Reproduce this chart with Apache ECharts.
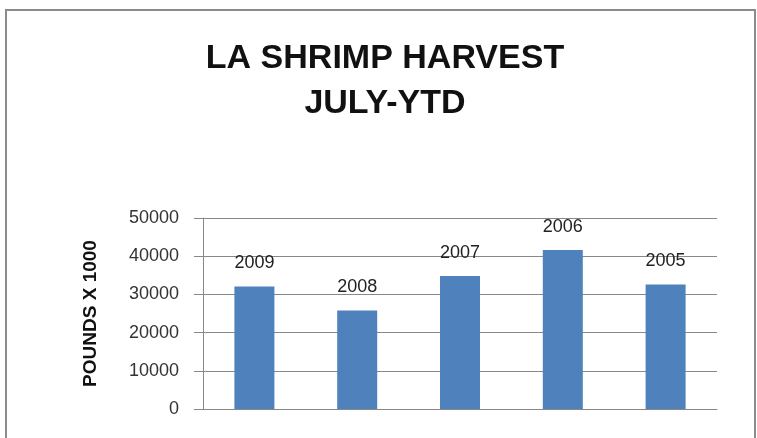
<!DOCTYPE html>
<html>
<head>
<meta charset="utf-8">
<script src="https://cdn.jsdelivr.net/npm/echarts@6/dist/echarts.min.js"></script>
<style>
html,body{margin:0;padding:0;background:#fff;}
#chart{width:757px;height:438px;}
</style>
</head>
<body>
<div id="chart"></div>
<script>
const titleLines = ['LA SHRIMP HARVEST', 'JULY-YTD'];
const yAxisName = 'POUNDS X 1000';
const categories = ['2009', '2008', '2007', '2006', '2005'];
const harvest = [32100, 25800, 34800, 41600, 32600];
const yTicks = [0, 10000, 20000, 30000, 40000, 50000];

const chart = echarts.init(document.getElementById('chart'), null, {renderer: 'canvas'});
const FONT = '"Liberation Sans", Arial, sans-serif';
chart.setOption({
  backgroundColor: '#ffffff',
  animation: false,
  graphic: [{
    type: 'rect',
    shape: {x: 6, y: 10, width: 749, height: 440},
    style: {fill: 'none', stroke: '#8c8c8c', lineWidth: 2},
    silent: true
  }],
  title: {
    text: titleLines.join('\n'),
    left: 380,
    top: 31,
    textAlign: 'center',
    textStyle: {
      fontFamily: FONT,
      fontWeight: 'bold',
      fontSize: 34,
      lineHeight: 45,
      color: '#111111'
    }
  },
  grid: {left: 203, right: 40, top: 218, bottom: 29, containLabel: false},
  xAxis: {
    type: 'category',
    data: categories,
    axisLine: {show: true, lineStyle: {color: '#888888', width: 1}},
    axisTick: {show: false},
    axisLabel: {show: false},
    splitLine: {show: false}
  },
  yAxis: {
    type: 'value',
    min: yTicks[0],
    max: yTicks[yTicks.length - 1],
    interval: yTicks[1] - yTicks[0],
    name: yAxisName,
    nameLocation: 'middle',
    nameGap: 103,
    nameRotate: 90,
    nameTextStyle: {fontFamily: FONT, fontWeight: 'bold', fontSize: 19, color: '#111111'},
    axisLine: {show: true, lineStyle: {color: '#888888', width: 1}},
    axisTick: {show: true, length: 9, lineStyle: {color: '#888888'}},
    axisLabel: {margin: 24, fontFamily: FONT, fontSize: 18, color: '#333333', formatter: function (v) { return String(v); }},
    splitLine: {show: true, lineStyle: {color: '#888888', width: 1}}
  },
  series: [{
    type: 'bar',
    data: harvest,
    barWidth: 40,
    itemStyle: {color: '#4F81BD'},
    label: {
      show: true,
      position: 'top',
      distance: 14,
      formatter: '{b}',
      fontFamily: FONT,
      fontSize: 18,
      color: '#222222'
    }
  }]
});
</script>
</body>
</html>
